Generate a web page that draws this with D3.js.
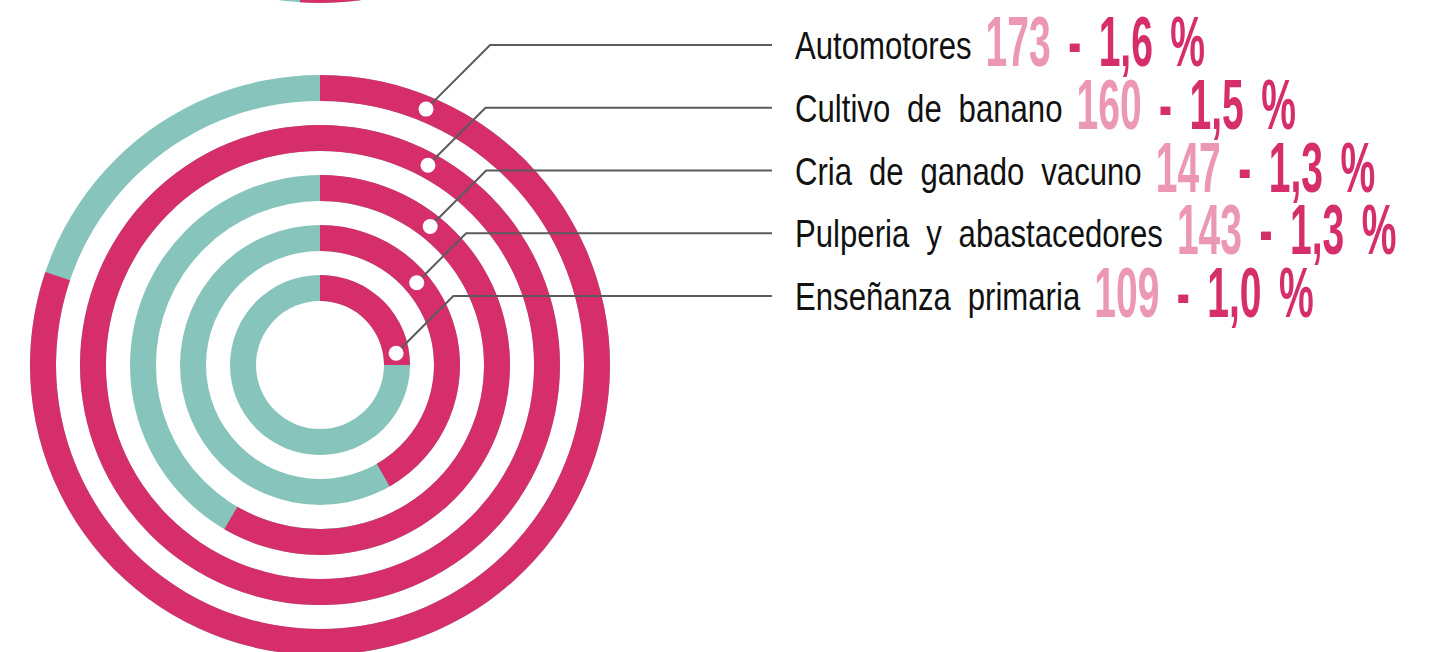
<!DOCTYPE html>
<html>
<head>
<meta charset="utf-8">
<script src="https://cdn.jsdelivr.net/npm/d3@7"></script>
<style>
  html, body { margin: 0; padding: 0; background: #ffffff; }
  svg { display: block; }
</style>
</head>
<body>
<svg id="chart" width="1429" height="652"></svg>
<script>
// ---- data ----
const categories = ["Automotores", "Cultivo de banano", "Cria de ganado vacuno", "Pulperia y abastacedores", "Enseñanza primaria"];
const counts = [173, 160, 147, 143, 109];
const percents = ["1,6", "1,5", "1,3", "1,3", "1,0"];
// share of each ring drawn in pink (clockwise from 12 o'clock)
const arcShare = [0.802, 1.0, 0.584, 0.417, 0.25];
// angle (degrees, clockwise from 12 o'clock) of the white marker on each ring
const markerDeg = [22.5, 28.4, 38.5, 49.6, 81.2];
// the ring of the previous chart, cut off at the top edge
const prevRingShare = 0.511;

// ---- style / layout ----
const PINK = "#d62e6a", TEAL = "#87c4bb", LIGHT = "#ec97b3", LINE = "#5b5b5b";
const W = 1429, H = 652;
const cx = 320, cy = 365;
const half = 13;
const labelX = 795, lineEndX = 772;

const svg = d3.select("#chart");

const ringR = d3.scalePoint().domain(categories).range([277, 77]);
const rowY = d3.scalePoint().domain(categories).range([45, 296]);
const angle = d3.scaleLinear().domain([0, 1]).range([0, 2 * Math.PI]);

const rows = categories.map((c, i) => ({
  cat: c, count: counts[i], pct: percents[i], share: arcShare[i], deg: markerDeg[i]
}));

const arc = d3.arc();

// previous chart ring (mostly outside the view)
const prev = svg.append("g").attr("transform", `translate(${cx},${cy - H})`);
const rOuter = ringR(categories[0]);
prev.append("path").attr("fill", TEAL)
  .attr("d", arc({innerRadius: rOuter - half, outerRadius: rOuter + half, startAngle: 0, endAngle: 2 * Math.PI}));
prev.append("path").attr("fill", PINK)
  .attr("d", arc({innerRadius: rOuter - half, outerRadius: rOuter + half, startAngle: 0, endAngle: angle(prevRingShare)}));

const g = svg.append("g").attr("transform", `translate(${cx},${cy})`);

// teal full rings
g.selectAll("path.base").data(rows).join("path")
  .attr("class", "base")
  .attr("fill", TEAL)
  .attr("d", d => arc({innerRadius: ringR(d.cat) - half, outerRadius: ringR(d.cat) + half, startAngle: 0, endAngle: 2 * Math.PI}));

// pink share arcs
g.selectAll("path.share").data(rows).join("path")
  .attr("class", "share")
  .attr("fill", PINK)
  .attr("d", d => arc({innerRadius: ringR(d.cat) - half, outerRadius: ringR(d.cat) + half, startAngle: 0, endAngle: angle(d.share)}));

// marker positions
rows.forEach(d => {
  const a = d.deg * Math.PI / 180;
  d.mx = cx + ringR(d.cat) * Math.sin(a);
  d.my = cy - ringR(d.cat) * Math.cos(a);
  d.ly = rowY(d.cat);
  d.ex = d.mx + (d.my - d.ly);
});

// leader lines
svg.selectAll("path.leader").data(rows).join("path")
  .attr("class", "leader")
  .attr("fill", "none")
  .attr("stroke", LINE)
  .attr("stroke-width", 2)
  .attr("d", d => `M${d.mx},${d.my}L${d.ex},${d.ly}L${lineEndX},${d.ly}`);

// white markers
svg.selectAll("circle.marker").data(rows).join("circle")
  .attr("class", "marker")
  .attr("cx", d => d.mx).attr("cy", d => d.my)
  .attr("r", 7.5).attr("fill", "#ffffff");

// labels (Arial-metric font compressed to narrow)
const LSX = 0.82;
const labels = svg.selectAll("text.label").data(rows).join("text")
  .attr("class", "label")
  .attr("transform", d => `translate(${labelX},${d.ly + 14}) scale(${LSX},1)`)
  .attr("font-family", "'Liberation Sans', Arial, sans-serif")
  .attr("font-size", 38)
  .attr("word-spacing", 10)
  .attr("fill", "#111111")
  .text(d => d.cat);

labels.each(function(d) { d.lw = this.getComputedTextLength() * LSX; });

// numbers
const NSX = 0.55;
const nums = svg.selectAll("text.num").data(rows).join("text")
  .attr("class", "num")
  .attr("transform", d => `translate(${labelX + d.lw + 14},${d.ly + 21}) scale(${NSX},1)`)
  .attr("font-family", "'Liberation Sans', Arial, sans-serif")
  .attr("font-weight", "bold")
  .attr("font-size", 71)
  .attr("word-spacing", 12);
nums.append("tspan").attr("fill", LIGHT).text(d => d.count);
nums.append("tspan").attr("fill", PINK).text(d => ` - ${d.pct} %`);
</script>
</body>
</html>
